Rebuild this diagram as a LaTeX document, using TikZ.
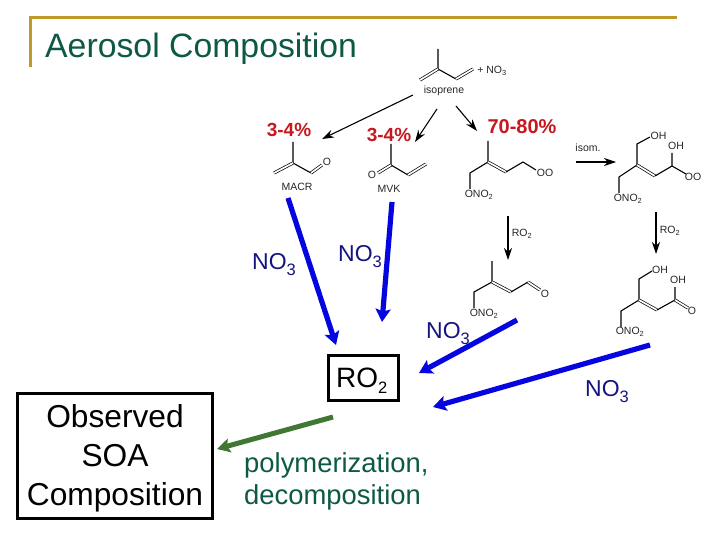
\documentclass[tikz,border=0pt]{standalone}
\usepackage{fontspec}
\setmainfont{Liberation Sans}
\usetikzlibrary{arrows.meta,calc,positioning}
\definecolor{titlegreen}{rgb}{0.05,0.35,0.27}
\definecolor{framegold}{rgb}{0.75,0.60,0.16}
\definecolor{yieldred}{rgb}{0.78,0.09,0.12}
\definecolor{nitrateblue}{rgb}{0.02,0.02,0.88}
\definecolor{labelnavy}{rgb}{0.08,0.08,0.50}
\definecolor{leafgreen}{rgb}{0.25,0.47,0.20}
\newcommand{\fsize}[1]{\fontsize{#1}{#1}\selectfont}
\newcommand{\lowsub}[1]{\raisebox{-6pt}{\fontsize{16.5}{16.5}\selectfont #1}}
\tikzset{
  bond/.style={line width=1.1pt,black,line join=miter},
  dbond/.style={line width=.7pt,black,double,double distance=1.7pt},
  chem/.style={
    inner sep=0pt,
    text=black!85,
    font=\fsize{10.5}
  },
  yield/.style={
    inner sep=0pt,
    text=yieldred,
    font=\fsize{19}\bfseries
  },
  nitrate/.style={
    anchor=base west,
    inner sep=0pt,
    text=labelnavy,
    font=\fsize{23}
  },
  heavybox/.style={
    draw=black,
    line width=3pt,
    fill=white,
    align=center,
    inner sep=0pt
  },
  thinarrow/.style={
    -{Stealth[length=12pt,width=8pt]},
    line width=1.1pt,
    black
  },
  bluearrow/.style={
    -{Stealth[length=13pt,width=15pt,inset=2.5pt]},
    line width=5.2pt,
    nitrateblue
  },
  greenarrow/.style={
    -{Stealth[length=13pt,width=14pt,inset=2.5pt]},
    line width=5pt,
    leafgreen
  }
}
\begin{document}
\begin{tikzpicture}[x=1pt,y=-1pt]
\useasboundingbox (0,0) rectangle (720,540);
% title
\draw[framegold,line width=3pt] (30,67) -- (30,18) -- (677,18);
\node[anchor=base west,inner sep=0pt,text=titlegreen,font=\fsize{33.8}] (title) at (45,58) {Aerosol Composition};
% isoprene
\draw[bond] (438,49) -- (438,69) -- (456,79);
\draw[dbond] (438,69) -- (420,80);
\draw[dbond] (456,79) -- (473,69);
\node[chem] (isoprene) at (444,91) {isoprene};
\node[chem] (plusno) at (492,71) {+ NO\textsubscript{3}};
% MACR and MVK
\draw[bond] (293,142) -- (293,163) -- (311,173);
\draw[dbond] (293,163) -- (274,173);
\draw[dbond] (311,173) -- (322,165);
\node[chem] at (327,162) {O};
\node[chem] (macr) at (297,187) {MACR};
\draw[bond] (391,144) -- (391,165) -- (408,175);
\draw[dbond] (391,165) -- (378,173);
\draw[dbond] (408,175) -- (426,164);
\node[chem] at (372,175) {O};
\node[chem] (mvk) at (389,189) {MVK};
% nitrate aldehyde
\draw[bond] (488,141) -- (488,162) -- (470,173) -- (470,189);
\draw[dbond] (488,162) -- (506,172);
\draw[bond] (506,172) -- (523,162) -- (536,170);
\node[chem] (hydroxy) at (545,173) {OO};
\node[chem] (onoa) at (479,195) {ONO\textsubscript{2}};
% hydroxy isomer
\draw[bond] (650,137) -- (637,144) -- (637,165) -- (619,177) -- (619,193);
\draw[dbond] (637,165) -- (655,176);
\draw[bond] (655,176) -- (672,166) -- (672,153);
\draw[bond] (672,166) -- (686,174);
\node[chem] at (658.5,136) {OH};
\node[chem] at (676,146) {OH};
\node[chem] at (693,177) {OO};
\node[chem] (onob) at (628,199) {ONO\textsubscript{2}};
% carbonyl products
\draw[bond] (492,261) -- (492,282) -- (474,292) -- (474,308);
\draw[dbond] (492,282) -- (511,292);
\draw[bond] (511,292) -- (528,282);
\draw[dbond] (528,282) -- (540,290);
\node[chem] at (545,294) {O};
\node[chem] (onoc) at (484,314) {ONO\textsubscript{2}};
\draw[bond] (652,271) -- (639,279) -- (639,300) -- (621,311) -- (621,327);
\draw[dbond] (639,300) -- (657,310);
\draw[bond] (657,310) -- (675,300) -- (675,287);
\draw[dbond] (675,300) -- (688,308);
\node[chem] at (660,270) {OH};
\node[chem] at (678,280) {OH};
\node[chem] at (692,311) {O};
\node[chem] (onod) at (630,332) {ONO\textsubscript{2}};
% free ends
\coordinate (isoa) at (413,95);
\coordinate (isob) at (437,109);
\coordinate (isoc) at (456,106);
\coordinate (toa) at (322,139);
\coordinate (tob) at (415,142);
\coordinate (toc) at (477,131);
\coordinate (isomin) at (576,162);
\coordinate (isomout) at (616,162);
\coordinate (roa) at (508,216);
\coordinate (roat) at (508,260);
\coordinate (rob) at (656,212);
\coordinate (robt) at (656,254);
\coordinate (ma) at (288,198);
\coordinate (mat) at (336,345);
\coordinate (mb) at (392,202);
\coordinate (mbt) at (382,322);
\coordinate (mc) at (517,320);
\coordinate (mct) at (419,373);
\coordinate (md) at (650,345);
\coordinate (mdt) at (433,407);
\coordinate (gr) at (333,417);
\coordinate (grt) at (217,449);
\draw[thinarrow] (isoa) -- (toa);
\draw[thinarrow] (isob) -- (tob);
\draw[thinarrow] (isoc) -- (toc);
\draw[thinarrow] (isomin) -- (isomout);
\draw[thinarrow] (roa) -- (roat);
\draw[thinarrow] (rob) -- (robt);
\node[chem] (isom) at (588,148) {isom.};
\node[chem] (roone) at (522,234) {RO\textsubscript{2}};
\node[chem] (rotwo) at (670,231) {RO\textsubscript{2}};
% yields
\node[yield] (yielda) at (289,130) {3-4\%};
\node[yield] (yieldb) at (389,135) {3-4\%};
\node[yield,font=\fsize{20}\bfseries] (yieldc) at (522,127) {70-80\%};
% nitrate routes
\draw[bluearrow] (ma) -- (mat);
\draw[bluearrow] (mb) -- (mbt);
\draw[bluearrow] (mc) -- (mct);
\draw[bluearrow] (md) -- (mdt);
\node[nitrate] (noa) at (252,269) {NO\lowsub{3}};
\node[nitrate] (nob) at (338,261) {NO\lowsub{3}};
\node[nitrate] (noc) at (426,338) {NO\lowsub{3}};
\node[nitrate] (nod) at (585,396) {NO\lowsub{3}};
% boxes
\node[heavybox,minimum width=70pt,minimum height=45pt] (ro) at (363,378) {};
\node[anchor=base west,inner sep=0pt,font=\fsize{28}] (rotext) at (336,387) {RO\lowsub{2}};
\node[heavybox,minimum width=195pt,minimum height=125pt] (soa) at (115,456) {};
\node[align=center,inner sep=0pt,font=\fontsize{31.7}{39}\selectfont] (soatext) at (115,458) {Observed\\SOA\\Composition};
\draw[greenarrow] (gr) -- (grt);
\node[anchor=base west,inner sep=0pt,text=titlegreen,font=\fsize{27.4}] (poly) at (244,472) {polymerization,};
\node[anchor=base west,inner sep=0pt,text=titlegreen,font=\fsize{27.4}] (decomp) at (244,504) {decomposition};
\end{tikzpicture}
\end{document}
